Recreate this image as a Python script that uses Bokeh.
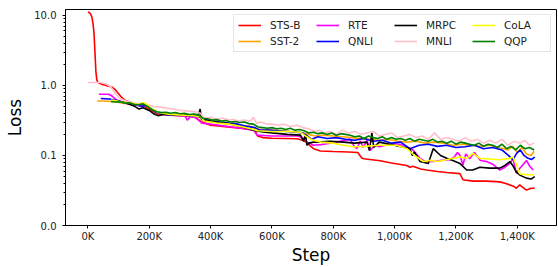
from bokeh.plotting import figure
from bokeh.models import FixedTicker, PrintfTickFormatter, Range1d
from bokeh.embed import file_html
from bokeh.resources import INLINE

# ---------------- data (steps in thousands, loss values) ----------------
sts_b_step = [0, 4, 9, 13, 17, 20, 23, 26, 29, 33, 45, 65, 78, 88, 98, 107, 120, 135, 150, 170,
              185, 200, 215, 230, 260, 300, 330, 350, 372, 400, 440, 480, 520, 545, 553, 570, 600,
              640, 682, 700, 712, 725, 736, 758, 800, 850, 880, 893, 900, 953, 990, 1040, 1050,
              1060, 1085, 1105, 1140, 1170, 1213, 1223, 1255, 1300, 1343, 1360, 1376, 1390, 1397,
              1408, 1418, 1430, 1445, 1457]
sts_b_loss = [11.2, 11.0, 10.5, 9.5, 7.5, 5.5, 3.0, 1.6, 1.2, 1.1, 1.04, 0.98, 0.95, 0.88, 0.78,
              0.70, 0.62, 0.58, 0.55, 0.52, 0.50, 0.46, 0.42, 0.39, 0.38, 0.37, 0.36, 0.35, 0.30,
              0.27, 0.26, 0.25, 0.24, 0.23, 0.19, 0.18, 0.176, 0.175, 0.173, 0.165, 0.155, 0.137,
              0.125, 0.116, 0.114, 0.112, 0.11, 0.092, 0.09, 0.084, 0.078, 0.072, 0.068, 0.070,
              0.064, 0.062, 0.059, 0.057, 0.055, 0.045, 0.043, 0.043, 0.042, 0.040, 0.038, 0.036,
              0.034, 0.038, 0.035, 0.032, 0.034, 0.034]

sst2_step = [30, 50, 75, 95, 110, 130, 150, 170, 185, 200, 215, 230, 260, 290, 320, 350, 365, 380,
             410, 440, 470, 500, 530, 550, 570, 600, 630, 660, 690, 720, 740, 770, 800, 830, 860,
             890, 920, 950, 980, 1010, 1040, 1070, 1100, 1130, 1160, 1190, 1220, 1250, 1280, 1310,
             1340, 1370, 1385, 1400, 1415, 1430, 1445, 1455]
sst2_loss = [0.60, 0.60, 0.59, 0.58, 0.56, 0.55, 0.53, 0.52, 0.53, 0.48, 0.44, 0.40, 0.39, 0.38,
             0.38, 0.36, 0.35, 0.31, 0.30, 0.29, 0.29, 0.27, 0.26, 0.24, 0.235, 0.23, 0.225, 0.22,
             0.215, 0.20, 0.19, 0.195, 0.19, 0.185, 0.18, 0.175, 0.17, 0.165, 0.17, 0.16, 0.155,
             0.16, 0.15, 0.155, 0.15, 0.14, 0.145, 0.14, 0.135, 0.14, 0.13, 0.12, 0.135, 0.11,
             0.13, 0.105, 0.10, 0.115]

rte_step = [36, 68, 80, 91, 110, 130, 150, 170, 190, 210, 230, 260, 300, 318, 324, 335, 350, 372,
            400, 454, 500, 540, 552, 600, 682, 700, 715, 735, 760, 780, 810, 833, 855, 866, 877,
            888, 898, 910, 920, 935, 950, 970, 1000, 1030, 1060, 1083, 1100, 1130, 1150, 1180,
            1195, 1205, 1213, 1223, 1232, 1245, 1260, 1280, 1300, 1320, 1343, 1360, 1376, 1386,
            1397, 1408, 1420, 1430, 1441, 1452]
rte_loss = [0.75, 0.75, 0.70, 0.63, 0.58, 0.55, 0.53, 0.51, 0.52, 0.45, 0.40, 0.38, 0.37, 0.36,
            0.32, 0.36, 0.35, 0.29, 0.28, 0.26, 0.245, 0.23, 0.195, 0.19, 0.19, 0.18, 0.155, 0.14,
            0.143, 0.147, 0.155, 0.163, 0.172, 0.14, 0.125, 0.16, 0.13, 0.165, 0.118, 0.14, 0.133,
            0.14, 0.147, 0.14, 0.12, 0.091, 0.082, 0.082, 0.085, 0.087, 0.095, 0.11, 0.101, 0.073,
            0.105, 0.09, 0.11, 0.085, 0.082, 0.075, 0.062, 0.068, 0.077, 0.09, 0.056, 0.065,
            0.075, 0.085, 0.07, 0.062]

qnli_step = [42, 70, 85, 100, 120, 140, 160, 175, 190, 205, 220, 240, 270, 300, 330, 360, 375,
             400, 430, 460, 490, 520, 545, 560, 590, 620, 650, 680, 700, 715, 730, 750, 780, 810,
             840, 870, 900, 930, 960, 990, 1020, 1050, 1080, 1110, 1140, 1170, 1200, 1230, 1260,
             1290, 1320, 1350, 1370, 1386, 1398, 1410, 1422, 1435, 1447, 1457]
qnli_loss = [0.65, 0.64, 0.62, 0.60, 0.57, 0.55, 0.53, 0.50, 0.52, 0.47, 0.42, 0.39, 0.38, 0.38,
             0.37, 0.36, 0.34, 0.31, 0.30, 0.29, 0.28, 0.26, 0.25, 0.23, 0.23, 0.225, 0.22, 0.215,
             0.21, 0.19, 0.17, 0.185, 0.175, 0.18, 0.17, 0.165, 0.175, 0.16, 0.165, 0.15, 0.155,
             0.125, 0.14, 0.145, 0.135, 0.14, 0.13, 0.133, 0.14, 0.125, 0.13, 0.12, 0.101, 0.087,
             0.107, 0.12, 0.10, 0.091, 0.088, 0.095]

mrpc_step = [95, 120, 150, 167, 180, 200, 216, 230, 250, 280, 302, 330, 360, 366, 370, 380, 420,
             465, 500, 540, 560, 600, 650, 693, 703, 710, 714, 720, 736, 747, 790, 834, 870, 910,
             918, 926, 932, 950, 1000, 1050, 1058, 1065, 1083, 1110, 1126, 1150, 1170, 1190, 1213,
             1235, 1255, 1278, 1310, 1343, 1360, 1376, 1387, 1397, 1410, 1430, 1445, 1457]
mrpc_loss = [0.60, 0.57, 0.51, 0.46, 0.48, 0.44, 0.39, 0.37, 0.39, 0.38, 0.39, 0.38, 0.37, 0.46,
             0.33, 0.32, 0.30, 0.28, 0.26, 0.23, 0.22, 0.21, 0.20, 0.195, 0.16, 0.20, 0.14, 0.15,
             0.155, 0.155, 0.16, 0.155, 0.15, 0.155, 0.118, 0.21, 0.13, 0.155, 0.14, 0.125, 0.10,
             0.112, 0.082, 0.077, 0.125, 0.10, 0.091, 0.085, 0.077, 0.062, 0.062, 0.068, 0.066,
             0.066, 0.072, 0.082, 0.07, 0.058, 0.052, 0.0475, 0.046, 0.05]

mnli_step = [0, 20, 42, 60, 75, 91, 107, 125, 140, 160, 180, 200, 215, 237, 260, 280, 302, 330,
             350, 367, 380, 400, 420, 440, 460, 475, 490, 510, 530, 540, 550, 565, 584, 600, 620,
             640, 660, 682, 700, 720, 740, 755, 770, 790, 810, 830, 850, 870, 890, 910, 930, 950,
             970, 990, 1010, 1030, 1050, 1070, 1090, 1110, 1130, 1150, 1170, 1190, 1210, 1230,
             1250, 1270, 1290, 1310, 1330, 1350, 1370, 1390, 1410, 1425, 1440, 1455]
mnli_loss = [1.1, 1.1, 1.1, 1.05, 0.96, 0.75, 0.64, 0.60, 0.58, 0.55, 0.56, 0.52, 0.50, 0.49,
             0.47, 0.46, 0.44, 0.43, 0.42, 0.40, 0.34, 0.35, 0.33, 0.34, 0.32, 0.33, 0.31, 0.32,
             0.31, 0.35, 0.29, 0.30, 0.28, 0.28, 0.27, 0.28, 0.26, 0.27, 0.25, 0.24, 0.22, 0.23,
             0.21, 0.22, 0.20, 0.23, 0.21, 0.22, 0.20, 0.21, 0.22, 0.19, 0.20, 0.21, 0.18, 0.19,
             0.20, 0.18, 0.19, 0.17, 0.21, 0.17, 0.18, 0.17, 0.16, 0.18, 0.16, 0.17, 0.15, 0.165,
             0.15, 0.17, 0.14, 0.16, 0.15, 0.165, 0.14, 0.15]

cola_step = [75, 95, 110, 130, 150, 165, 175, 183, 195, 210, 230, 260, 300, 340, 365, 380, 420,
             460, 500, 540, 555, 600, 650, 693, 710, 725, 735, 760, 800, 834, 866, 900, 950, 1007,
             1040, 1065, 1094, 1115, 1140, 1165, 1191, 1215, 1235, 1256, 1278, 1310, 1343, 1376,
             1386, 1397, 1408, 1420, 1430, 1445, 1455]
cola_loss = [0.62, 0.60, 0.58, 0.57, 0.55, 0.53, 0.56, 0.57, 0.52, 0.46, 0.41, 0.39, 0.38, 0.37,
             0.36, 0.31, 0.29, 0.28, 0.26, 0.235, 0.225, 0.22, 0.22, 0.215, 0.19, 0.173, 0.165,
             0.155, 0.15, 0.14, 0.133, 0.135, 0.14, 0.14, 0.125, 0.10, 0.082, 0.085, 0.082, 0.086,
             0.091, 0.095, 0.091, 0.107, 0.091, 0.089, 0.087, 0.091, 0.095, 0.075, 0.055, 0.054,
             0.053, 0.053, 0.053]

qqp_step = [75, 90, 105, 120, 135, 150, 165, 180, 195, 210, 225, 240, 255, 270, 285, 300, 315,
            330, 345, 360, 375, 390, 405, 420, 435, 450, 465, 480, 495, 510, 525, 540, 555, 570,
            585, 600, 615, 630, 645, 660, 675, 690, 705, 720, 735, 750, 765, 780, 795, 810, 825,
            840, 855, 870, 885, 900, 915, 930, 945, 960, 975, 990, 1005, 1020, 1035, 1050, 1065,
            1080, 1095, 1110, 1125, 1140, 1155, 1170, 1185, 1200, 1215, 1230, 1245, 1260, 1275,
            1290, 1305, 1320, 1335, 1350, 1365, 1380, 1395, 1410, 1425, 1440, 1455]
qqp_loss = [0.59, 0.58, 0.585, 0.56, 0.565, 0.54, 0.53, 0.545, 0.50, 0.45, 0.42, 0.41, 0.415,
            0.40, 0.41, 0.395, 0.40, 0.385, 0.39, 0.38, 0.34, 0.335, 0.32, 0.325, 0.31, 0.315,
            0.30, 0.305, 0.295, 0.30, 0.285, 0.28, 0.255, 0.25, 0.245, 0.25, 0.24, 0.245, 0.235,
            0.245, 0.23, 0.235, 0.225, 0.21, 0.215, 0.205, 0.21, 0.20, 0.21, 0.195, 0.205, 0.20,
            0.195, 0.185, 0.19, 0.175, 0.19, 0.18, 0.175, 0.185, 0.17, 0.18, 0.17, 0.175, 0.165,
            0.175, 0.16, 0.17, 0.165, 0.16, 0.17, 0.155, 0.16, 0.15, 0.16, 0.145, 0.155, 0.15,
            0.145, 0.14, 0.15, 0.135, 0.145, 0.14, 0.13, 0.145, 0.125, 0.135, 0.12, 0.14, 0.125,
            0.13, 0.12]

x_ticks = [0, 200, 400, 600, 800, 1000, 1200, 1400]
x_tick_labels = ["0K", "200K", "400K", "600K", "800K", "1,000K", "1,200K", "1,400K"]
y_ticks = [0.01, 0.1, 1.0, 10.0]

series = [
    ("STS-B", sts_b_step, sts_b_loss, "red"),
    ("SST-2", sst2_step, sst2_loss, "orange"),
    ("RTE", rte_step, rte_loss, "magenta"),
    ("QNLI", qnli_step, qnli_loss, "blue"),
    ("MRPC", mrpc_step, mrpc_loss, "black"),
    ("MNLI", mnli_step, mnli_loss, "pink"),
    ("CoLA", cola_step, cola_loss, "yellow"),
    ("QQP", qqp_step, qqp_loss, "green"),
]

FONT = "DejaVu Sans"

p = figure(width=558, height=267, y_axis_type="log",
           x_range=Range1d(-73, 1528), y_range=Range1d(0.01, 12.15),
           output_backend="svg", toolbar_location=None,
           min_border_left=65, min_border_right=2, min_border_top=9, min_border_bottom=39)

for name, xs, ys, col in series:
    p.line(xs, ys, line_color=col, line_width=1.6, legend_label=name)

p.xgrid.visible = False
p.ygrid.visible = False
p.outline_line_color = "black"
p.outline_line_width = 1
p.outline_line_alpha = 1

for ax in (p.xaxis[0], p.yaxis[0]):
    ax.axis_line_color = "black"
    ax.major_tick_in = 0
    ax.major_tick_out = 3
    ax.minor_tick_in = 0
    ax.minor_tick_out = 2
    ax.major_label_text_font = FONT
    ax.major_label_text_font_size = "10px"
    ax.major_label_text_color = "#222222"
    ax.axis_label_text_font = FONT
    ax.axis_label_text_font_size = "17px"
    ax.axis_label_text_font_style = "normal"
    ax.axis_label_text_color = "black"

p.xaxis[0].ticker = FixedTicker(ticks=x_ticks)
p.xaxis[0].major_label_overrides = {t: l for t, l in zip(x_ticks, x_tick_labels)}
p.xaxis[0].minor_tick_line_color = None
p.xaxis[0].axis_label = "Step"
p.xaxis[0].major_label_standoff = 2
p.xaxis[0].axis_label_standoff = 0

minor = [m * t for t in y_ticks for m in range(2, 10)]
p.yaxis[0].ticker = FixedTicker(ticks=y_ticks, minor_ticks=minor)
p.yaxis[0].formatter = PrintfTickFormatter(format="%.1f")
p.yaxis[0].axis_label = "Loss"
p.yaxis[0].major_label_standoff = 6
p.yaxis[0].axis_label_standoff = 6

lg = p.legend[0]
lg.location = "top_right"
lg.orientation = "vertical"
lg.nrows = 2
lg.margin = 5
lg.padding = 4
lg.spacing = 4
lg.glyph_width = 23
lg.glyph_height = 12
lg.label_standoff = 9
lg.label_width = 42
lg.label_height = 12
lg.label_text_font = FONT
lg.label_text_font_size = "10.5px"
lg.label_text_color = "#222222"
lg.border_line_color = "#cccccc"
lg.border_line_width = 1
lg.background_fill_alpha = 0.8

open("out.html", "w").write(file_html(p, INLINE))
